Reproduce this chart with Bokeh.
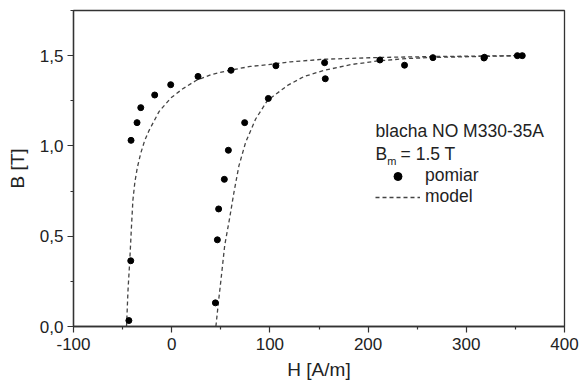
from bokeh.plotting import figure
from bokeh.models import (FixedTicker, CustomJSTickFormatter, Label, Legend, LegendItem,
                          Range1d)
from bokeh.embed import file_html
from bokeh.resources import INLINE

# --- measured points (pomiar) ---
H_meas = [-43.6, -41.7, -41.4, -35.3, -31.5, -17.3, -1.0, 26.8, 60.4, 106.1, 155.7, 212.0,
          266.0, 318.5, 352.0,
          44.5, 46.5, 47.8, 53.6, 57.7, 74.3, 98.4, 156.4, 237.1, 318.0, 357.0]
B_meas = [0.033, 0.364, 1.031, 1.129, 1.212, 1.282, 1.339, 1.385, 1.419, 1.444, 1.461, 1.476,
          1.489, 1.491, 1.500,
          0.131, 0.480, 0.651, 0.815, 0.976, 1.129, 1.263, 1.372, 1.447, 1.487, 1.500]

# --- model curves ---
H_model_desc = [-46.0, -44.5, -42.7, -41.0, -39.5, -37.5, -35.0, -31.5, -27.5, -23.1, -12.9, -1.0,
                10.9, 24.4, 40.0, 60.0, 80.0, 105.8, 121.0, 155.0, 212.0, 266.0, 318.0, 355.0]
B_model_desc = [0.0, 0.20, 0.365, 0.55, 0.70, 0.80, 0.88, 0.960, 1.030, 1.085, 1.190, 1.265,
                1.315, 1.361, 1.395, 1.420, 1.440, 1.455, 1.466, 1.480, 1.490, 1.495, 1.498, 1.500]
H_model_asc = [45.0, 47.5, 50.0, 54.0, 59.0, 63.4, 68.5, 75.3, 85.5, 97.4, 118.0, 135.0, 155.0,
               182.0, 212.0, 240.0, 266.0, 318.0, 355.0]
B_model_asc = [0.0, 0.13, 0.25, 0.45, 0.60, 0.743, 0.891, 1.020, 1.149, 1.251, 1.335, 1.385, 1.418,
               1.450, 1.472, 1.484, 1.490, 1.496, 1.500]

x_ticks = [-100, 0, 100, 200, 300, 400]
x_minor = [-50, 50, 150, 250, 350]
y_ticks = [0.0, 0.5, 1.0, 1.5]
y_minor = [0.25, 0.75, 1.25, 1.75]

FONT = "Liberation Sans"
AX = "#333333"

p = figure(width=581, height=383, output_backend="svg", toolbar_location=None,
           x_range=Range1d(-100, 400), y_range=Range1d(0, 1.75),
           min_border_left=73, min_border_right=17, min_border_top=10, min_border_bottom=57)
p.xgrid.visible = False
p.ygrid.visible = False
p.outline_line_color = AX
p.outline_line_width = 1.3
p.background_fill_color = "white"
p.border_fill_color = "white"

l1 = p.line(H_model_desc, B_model_desc, line_color="#444444", line_width=1.3, line_dash="4 3")
p.line(H_model_asc, B_model_asc, line_color="#444444", line_width=1.3, line_dash="4 3")
sc = p.scatter(H_meas, B_meas, size=6, color="black")

p.xaxis.ticker = FixedTicker(ticks=x_ticks, minor_ticks=x_minor)
p.yaxis.ticker = FixedTicker(ticks=y_ticks, minor_ticks=y_minor)
p.yaxis.formatter = CustomJSTickFormatter(code="return tick.toFixed(1).replace('.', ',');")
p.xaxis.formatter = CustomJSTickFormatter(code="return tick.toFixed(0);")

for ax in (p.xaxis, p.yaxis):
    ax.axis_line_color = AX
    ax.axis_line_width = 1.3
    ax.major_tick_line_color = AX
    ax.minor_tick_line_color = AX
    ax.major_tick_line_width = 1.2
    ax.minor_tick_line_width = 1.2
    ax.major_tick_out = 6
    ax.major_tick_in = 0
    ax.minor_tick_out = 3
    ax.minor_tick_in = 0
    ax.major_label_text_font = FONT
    ax.major_label_text_font_size = "17px"
    ax.major_label_text_color = "#222222"
    ax.axis_label_text_font = FONT
    ax.axis_label_text_font_size = "19px"
    ax.axis_label_text_font_style = "normal"
    ax.axis_label_text_color = "#222222"

p.xaxis.axis_label = "H [A/m]"
p.yaxis.axis_label = "B [T]"
p.xaxis.major_label_standoff = 5
p.xaxis.axis_label_standoff = 6
p.yaxis.major_label_standoff = 4
p.yaxis.axis_label_standoff = 9

lab_kw = dict(text_font=FONT, text_color="#222222", text_baseline="alphabetic")
p.add_layout(Label(x=207.6, y=1.081, text="blacha NO M330-35A", text_font_size="17.5px", **lab_kw))
p.add_layout(Label(x=207.6, y=0.955, text="B", text_font_size="17.5px", **lab_kw))
p.add_layout(Label(x=219.5, y=0.919, text="m", text_font_size="11px", **lab_kw))
p.add_layout(Label(x=233.1, y=0.955, text="= 1.5 T", text_font_size="17.5px", **lab_kw))

legend = Legend(items=[LegendItem(label="pomiar", renderers=[sc]),
                       LegendItem(label="model", renderers=[l1])],
                location=(302, 119), background_fill_alpha=0, border_line_alpha=0,
                padding=0, margin=0, spacing=0, glyph_width=45, glyph_height=20,
                label_height=20, label_standoff=5, label_text_font=FONT,
                label_text_font_size="17.5px", label_text_color="#222222")
p.add_layout(legend)

open("out.html", "w").write(file_html(p, INLINE))
